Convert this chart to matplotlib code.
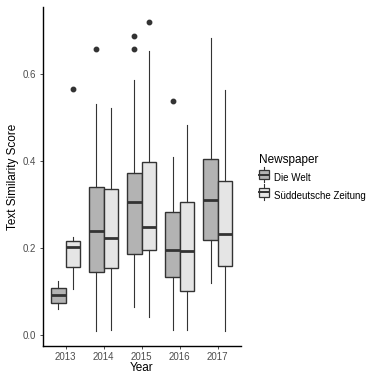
import matplotlib
matplotlib.use("Agg")
import matplotlib.pyplot as plt
from matplotlib.legend_handler import HandlerBase
from matplotlib.patches import Rectangle
from matplotlib.lines import Line2D

plt.rcParams['font.family'] = ['Liberation Sans', 'DejaVu Sans']

years = ['2013', '2014', '2015', '2016', '2017']
papers = ['Die Welt', 'Süddeutsche Zeitung']
fills = ['#b3b3b3', '#e5e5e5']

# box stats, per newspaper, per year
welt_lo = [0.059, 0.008, 0.065, 0.012, 0.119]
welt_q1 = [0.074, 0.145, 0.187, 0.133, 0.218]
welt_med = [0.091, 0.238, 0.306, 0.195, 0.310]
welt_q3 = [0.107, 0.340, 0.372, 0.282, 0.404]
welt_hi = [0.124, 0.531, 0.585, 0.408, 0.682]
welt_out = [[], [0.657], [0.688, 0.658], [0.539], []]

sz_lo = [0.106, 0.011, 0.041, 0.012, 0.008]
sz_q1 = [0.157, 0.153, 0.195, 0.102, 0.158]
sz_med = [0.202, 0.222, 0.247, 0.193, 0.231]
sz_q3 = [0.217, 0.335, 0.397, 0.306, 0.354]
sz_hi = [0.224, 0.521, 0.652, 0.482, 0.562]
sz_out = [[0.565], [], [0.719], [], []]

series = [
    (welt_lo, welt_q1, welt_med, welt_q3, welt_hi, welt_out),
    (sz_lo, sz_q1, sz_med, sz_q3, sz_hi, sz_out),
]

fig = plt.figure(figsize=(3.69, 3.73), dpi=100)
ax = fig.add_axes([42.7 / 369, 27 / 373, 197.8 / 369, 339 / 373])

dodge = 0.1875
for k, (lo, q1, med, q3, hi, out) in enumerate(series):
    stats = []
    for i in range(len(years)):
        stats.append(dict(whislo=lo[i], q1=q1[i], med=med[i], q3=q3[i],
                          whishi=hi[i], fliers=out[i]))
    pos = [i + 1 + (k * 2 - 1) * dodge for i in range(len(years))]
    ax.bxp(stats, positions=pos, widths=0.375, patch_artist=True,
           showcaps=False,
           boxprops=dict(facecolor=fills[k], edgecolor='#333333', linewidth=1.0),
           medianprops=dict(color='#333333', linewidth=2.0),
           whiskerprops=dict(color='#333333', linewidth=0.8),
           flierprops=dict(marker='o', markerfacecolor='#333333',
                           markeredgecolor='#333333', markersize=3.2))

ax.set_xlim(0.4, 5.6)
ax.set_ylim(-0.0255, 0.754)
ax.set_xticks(range(1, len(years) + 1))
ax.set_xticklabels(years)
ax.set_yticks([0.0, 0.2, 0.4, 0.6])
ax.set_yticklabels(['0.0', '0.2', '0.4', '0.6'])
ax.tick_params(colors='#333333', labelcolor='#4d4d4d', labelsize=7, length=2.5, width=0.6, pad=2)
for side in ['top', 'right']:
    ax.spines[side].set_visible(False)
for side in ['left', 'bottom']:
    ax.spines[side].set_linewidth(1.0)
    ax.spines[side].set_color('black')
ax.set_xlabel('Year', fontsize=8.5, labelpad=0)
ax.set_ylabel('Text Similarity Score', fontsize=8.5, labelpad=3)


class BoxHandler(HandlerBase):
    def create_artists(self, legend, orig, xd, yd, width, height, fontsize, trans):
        fc = orig.get_facecolor()
        cx = xd + width / 2
        cy = yd + height / 2
        whisk = Line2D([cx, cx], [yd - 2, yd + height + 2], color='#333333', lw=0.8, transform=trans)
        rect = Rectangle((xd, yd + 0.5), width, height - 1, facecolor=fc,
                         edgecolor='#333333', lw=0.9, transform=trans)
        med = Line2D([xd, xd + width], [cy, cy], color='#333333', lw=1.4, transform=trans)
        return [whisk, rect, med]


handles = [Rectangle((0, 0), 1, 1, facecolor=c) for c in fills]
leg = fig.legend(handles, papers, title='Newspaper', loc='upper left',
                 bbox_to_anchor=(252 / 369, 1 - 147 / 373), frameon=False,
                 fontsize=7, title_fontsize=8.5, handler_map={Rectangle: BoxHandler()},
                 handlelength=1.05, handleheight=1.2, handletextpad=0.55, labelspacing=0.75,
                 borderpad=0.2)
leg._legend_box.align = 'left'

fig.savefig('out.png', dpi=100)
